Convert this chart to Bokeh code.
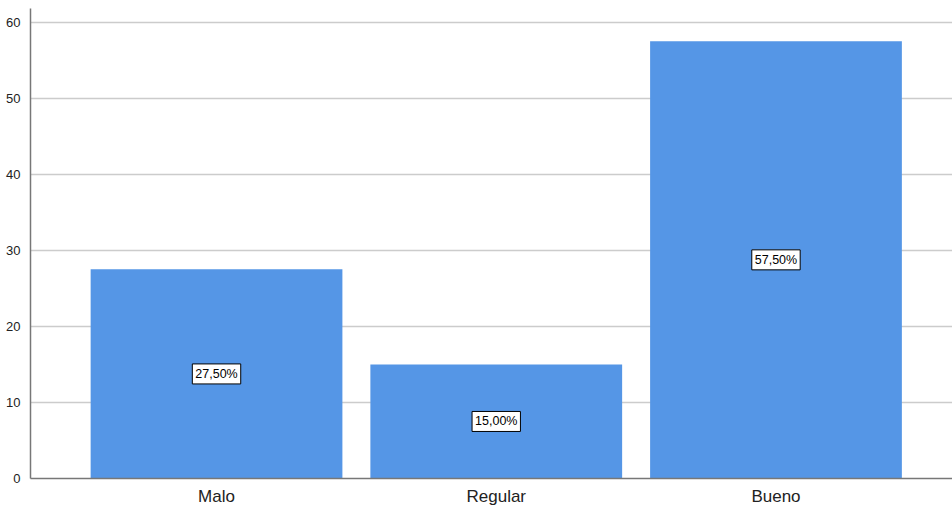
from bokeh.plotting import figure
from bokeh.models import Range1d, FixedTicker, Label
from bokeh.embed import file_html
from bokeh.resources import INLINE

categories = ["Malo", "Regular", "Bueno"]
percentages = [27.5, 15.0, 57.5]
y_ticks = [0, 10, 20, 30, 40, 50, 60]

positions = [i + 1 for i in range(len(categories))]

p = figure(width=952, height=508, output_backend="svg", toolbar_location=None,
           x_range=Range1d(0.335, 3.631), y_range=Range1d(0, 61.8),
           min_border_left=30, min_border_right=0, min_border_top=8, min_border_bottom=30)
p.outline_line_color = None
p.background_fill_color = "white"
p.border_fill_color = "white"

p.vbar(x=positions, top=percentages, width=0.9, bottom=0,
       fill_color="#5596E6", line_color=None)

for xpos, v in zip(positions, percentages):
    txt = f"{v:.2f}".replace(".", ",") + "%"
    p.add_layout(Label(x=xpos, y=v / 2, text=txt, text_align="center", text_baseline="middle",
                       text_font="Liberation Sans", text_font_size="12.5px", text_color="black",
                       background_fill_color="white", border_line_color="black", border_line_width=1,
                       padding=3))

p.xaxis.ticker = FixedTicker(ticks=positions)
p.xaxis.major_label_overrides = {xp: c for xp, c in zip(positions, categories)}
p.xaxis.major_label_text_font = "Liberation Sans"
p.xaxis.major_label_text_font_size = "17px"
p.xaxis.major_label_text_color = "#222222"
p.xaxis.major_tick_line_color = None
p.xaxis.minor_tick_line_color = None
p.xaxis.major_label_standoff = 2
p.xaxis.axis_line_color = "#777777"
p.xaxis.axis_line_width = 1.5

p.yaxis.ticker = FixedTicker(ticks=y_ticks)
p.yaxis.major_label_text_font = "Liberation Sans"
p.yaxis.major_label_text_font_size = "13px"
p.yaxis.major_label_text_color = "#222222"
p.yaxis.major_tick_line_color = None
p.yaxis.minor_tick_line_color = None
p.yaxis.major_label_standoff = 4
p.yaxis.axis_line_color = "#777777"
p.yaxis.axis_line_width = 1.5

p.xgrid.grid_line_color = None
p.ygrid.ticker = FixedTicker(ticks=y_ticks)
p.ygrid.grid_line_color = "#cccccc"
p.ygrid.grid_line_width = 1.5

open("out.html", "w").write(file_html(p, INLINE))
